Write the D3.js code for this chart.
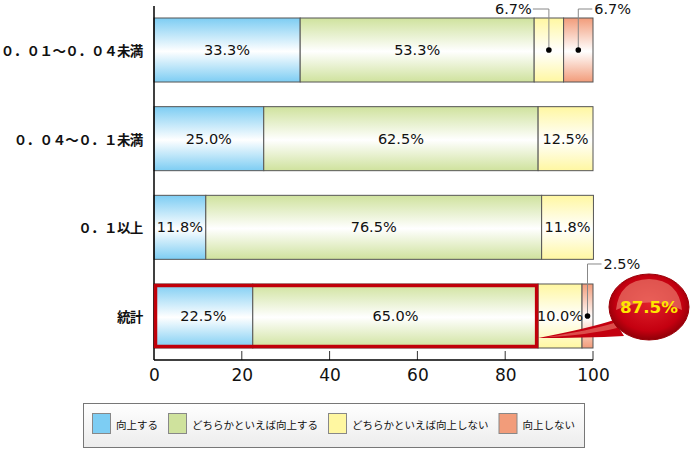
<!DOCTYPE html>
<html>
  <head>
    <meta charset="utf-8" />
    <title>向上度</title>
    <style type="text/css">
      html, body {
        margin: 0;
        padding: 0;
        background: #fff;
      }
      .cat {
        font-family: "Noto Sans CJK JP", sans-serif;
        font-size: 13.5px;
        font-weight: bold;
      }
      .val {
        font-family: "DejaVu Sans", sans-serif;
        font-size: 14.5px;
      }
      .tick text {
        font-family: "DejaVu Sans", sans-serif;
        font-size: 17px;
      }
      .legend text {
        font-family: "Noto Sans CJK JP", sans-serif;
        font-size: 10.5px;
      }
    </style>
  </head>
  <body>
    <svg id="chart" width="690" height="456"></svg>

    <script src="https://cdn.jsdelivr.net/npm/d3@7/dist/d3.min.js"></script>
    <script type="text/javascript">

    var categories = ['０．０１～０．０４未満', '０．０４～０．１未満', '０．１以上', '統計'];
    var seriesNames = ['向上する', 'どちらかといえば向上する', 'どちらかといえば向上しない', '向上しない'];
    var improve       = [33.3, 25.0, 11.8, 22.5];
    var ratherImprove = [53.3, 62.5, 76.5, 65.0];
    var ratherNot     = [6.7, 12.5, 11.8, 10.0];
    var notImprove    = [6.7, 0, 0, 2.5];
    var xTicks = [0, 20, 40, 60, 80, 100];
    var highlightText = '87.5%';

    var colors = ['#7dcdf3', '#cfe29d', '#fff7a1', '#f29c7a'];
    var series = [improve, ratherImprove, ratherNot, notImprove];

    var svg = d3.select('#chart');
    var defs = svg.append('defs');

    var x = d3.scaleLinear().domain([0, 100]).range([154, 593]);
    var y = d3.scaleBand().domain(categories).range([18, 348]).paddingInner(0.278);

    // vertical shine gradients for each series
    colors.forEach(function(c, i) {
      var g = defs.append('linearGradient')
        .attr('id', 'grad' + i)
        .attr('x1', 0).attr('y1', 0).attr('x2', 0).attr('y2', 1);
      g.append('stop').attr('offset', '0%').attr('stop-color', c);
      g.append('stop').attr('offset', '52%').attr('stop-color', '#fff');
      g.append('stop').attr('offset', '100%').attr('stop-color', c);
    });

    var lg = defs.append('linearGradient').attr('id', 'legendBg')
      .attr('x1', 0).attr('y1', 0).attr('x2', 0).attr('y2', 1);
    lg.append('stop').attr('offset', '0%').attr('stop-color', '#ffffff');
    lg.append('stop').attr('offset', '100%').attr('stop-color', '#ececec');

    var rg = defs.append('radialGradient').attr('id', 'bubble')
      .attr('cx', '50%').attr('cy', '45%').attr('r', '55%');
    rg.append('stop').attr('offset', '0%').attr('stop-color', '#e0202a');
    rg.append('stop').attr('offset', '75%').attr('stop-color', '#c40010');
    rg.append('stop').attr('offset', '100%').attr('stop-color', '#8e0008');

    // stack
    var rows = categories.map(function(cat, ci) {
      var acc = 0;
      return series.map(function(s, si) {
        var seg = { cat: cat, ci: ci, si: si, v: s[ci], x0: acc, x1: acc + s[ci] };
        acc += s[ci];
        return seg;
      }).filter(function(d) { return d.v > 0; });
    });
    var segs = [].concat.apply([], rows);

    // bars
    svg.append('g').selectAll('rect')
      .data(segs)
      .enter()
      .append('rect')
        .attr('x', function(d) { return x(d.x0); })
        .attr('y', function(d) { return y(d.cat); })
        .attr('width', function(d) { return x(d.x1) - x(d.x0); })
        .attr('height', y.bandwidth())
        .attr('fill', function(d) { return 'url(#grad' + d.si + ')'; })
        .attr('stroke', '#555')
        .attr('stroke-width', 1);

    // inside labels
    svg.append('g').selectAll('text')
      .data(segs.filter(function(d) { return d.v >= 10; }))
      .enter()
      .append('text')
        .attr('class', 'val')
        .attr('x', function(d) { return (x(d.x0) + x(d.x1)) / 2; })
        .attr('y', function(d) { return y(d.cat) + y.bandwidth() / 2; })
        .attr('text-anchor', 'middle')
        .attr('dominant-baseline', 'central')
        .attr('fill', '#111')
        .text(function(d) { return d.v.toFixed(1) + '%'; });

    // outside labels with leader lines
    var small = segs.filter(function(d) { return d.v < 10; });
    var lead = svg.append('g');
    small.forEach(function(d) {
      var cx = (x(d.x0) + x(d.x1)) / 2,
          cy = y(d.cat) + y.bandwidth() / 2,
          top = y(d.cat) - Math.min(20, y(d.cat) - 9),
          right = d.si === series.length - 1,
          ex = right ? cx + 14 : cx - 16;
      lead.append('path')
        .attr('d', 'M' + cx + ',' + cy + 'V' + top + 'H' + ex)
        .attr('fill', 'none')
        .attr('stroke', '#888')
        .attr('stroke-width', 1);
      lead.append('circle')
        .attr('cx', cx).attr('cy', cy).attr('r', 2.8)
        .attr('fill', '#000');
      lead.append('text')
        .attr('class', 'val')
        .attr('x', right ? ex + 2 : ex - 1)
        .attr('y', top)
        .attr('text-anchor', right ? 'start' : 'end')
        .attr('dominant-baseline', 'central')
        .attr('fill', '#111')
        .text(d.v.toFixed(1) + '%');
    });

    // category labels: one cell per full-width character, right edge at 143
    var pitch = 12.9;
    var catText = svg.append('g').selectAll('text')
      .data(categories)
      .enter()
      .append('text')
        .attr('class', 'cat')
        .attr('y', function(d) { return y(d) + y.bandwidth() / 2; })
        .attr('text-anchor', 'middle')
        .attr('dominant-baseline', 'central')
        .attr('fill', '#111');
    catText.each(function(d) {
      var chars = Array.from(d), n = chars.length, t = d3.select(this);
      chars.forEach(function(ch, i) {
        t.append('tspan')
          .attr('x', 143 - (n - i - 0.5) * pitch)
          .text(ch);
      });
    });

    // axes
    var xAxis = svg.append('g')
      .attr('class', 'tick')
      .attr('transform', 'translate(0,360)')
      .call(d3.axisBottom(x).tickValues(xTicks).tickSize(0).tickPadding(8).tickFormat(d3.format('d')));
    xAxis.select('.domain').remove();
    xAxis.selectAll('line').remove();
    xAxis.selectAll('text').attr('fill', '#111').attr('dy', '0.75em');

    svg.append('g').selectAll('line')
      .data(xTicks.slice(1))
      .enter()
      .append('line')
        .attr('x1', function(d) { return x(d); })
        .attr('x2', function(d) { return x(d); })
        .attr('y1', 351).attr('y2', 360)
        .attr('stroke', '#333');

    svg.append('line')
      .attr('x1', x(0)).attr('x2', x(100)).attr('y1', 360).attr('y2', 360)
      .attr('stroke', '#000').attr('stroke-width', 1.5);
    svg.append('line')
      .attr('x1', x(0)).attr('x2', x(0)).attr('y1', 6).attr('y2', 360)
      .attr('stroke', '#000').attr('stroke-width', 1.5);

    // highlight for the total row
    var last = categories[categories.length - 1];
    var hiEnd = improve[3] + ratherImprove[3];
    svg.append('rect')
      .attr('x', x(0) + 1.5)
      .attr('y', y(last) + 1.5)
      .attr('width', x(hiEnd) - x(0) - 3)
      .attr('height', y.bandwidth() - 3)
      .attr('fill', 'none')
      .attr('stroke', '#c0000a')
      .attr('stroke-width', 3.5);

    // callout bubble
    var bx = 649, by = 307;
    var tipX = x(hiEnd), tipY = y(last) + y.bandwidth() - 10;
    svg.append('path')
      .attr('d', 'M' + tipX + ',' + tipY + 'Q590,328 614,320 L624,336 Q585,338 ' + tipX + ',' + tipY + 'Z')
      .attr('fill', '#c40010');
    svg.append('path')
      .attr('d', 'M' + (tipX + 6) + ',' + (tipY - 0.5) + 'Q592,330 614,323 L617,328 Q588,335 ' + (tipX + 6) + ',' + (tipY - 0.5) + 'Z')
      .attr('fill', '#e2605a')
      .attr('opacity', 0.8);
    svg.append('ellipse')
      .attr('cx', bx).attr('cy', by).attr('rx', 40).attr('ry', 33)
      .attr('fill', 'url(#bubble)')
      .attr('stroke', '#9a0008').attr('stroke-width', 1);
    svg.append('path')
      .attr('d', 'M' + (bx - 33) + ',' + (by + 3) + 'Q' + (bx - 30) + ',' + (by - 27) + ' ' + bx + ',' + (by - 28) +
                 'Q' + (bx + 30) + ',' + (by - 27) + ' ' + (bx + 33) + ',' + (by + 3) +
                 'Q' + bx + ',' + (by - 12) + ' ' + (bx - 33) + ',' + (by + 3) + 'Z')
      .attr('fill', '#f08a78')
      .attr('opacity', 0.6);
    svg.append('text')
      .attr('x', bx).attr('y', by)
      .attr('text-anchor', 'middle')
      .attr('dominant-baseline', 'central')
      .attr('font-family', '"DejaVu Sans", sans-serif')
      .attr('font-weight', 'bold')
      .attr('font-size', '16.7px')
      .attr('fill', '#ffe600')
      .text(highlightText);

    // legend
    var legend = svg.append('g').attr('class', 'legend');
    legend.append('rect')
      .attr('x', 83.5).attr('y', 403.5).attr('width', 501).attr('height', 44)
      .attr('fill', 'url(#legendBg)')
      .attr('stroke', '#777');
    var lx = 92;
    seriesNames.forEach(function(name, i) {
      legend.append('rect')
        .attr('x', lx + 0.5).attr('y', 413.5).attr('width', 18).attr('height', 20)
        .attr('fill', colors[i])
        .attr('stroke', '#888');
      var t = legend.append('text')
        .attr('x', lx + 24).attr('y', 424)
        .attr('dominant-baseline', 'central')
        .attr('fill', '#111')
        .text(name);
      lx += 24 + t.node().getComputedTextLength() + 10;
    });

    </script>
  </body>
</html>
